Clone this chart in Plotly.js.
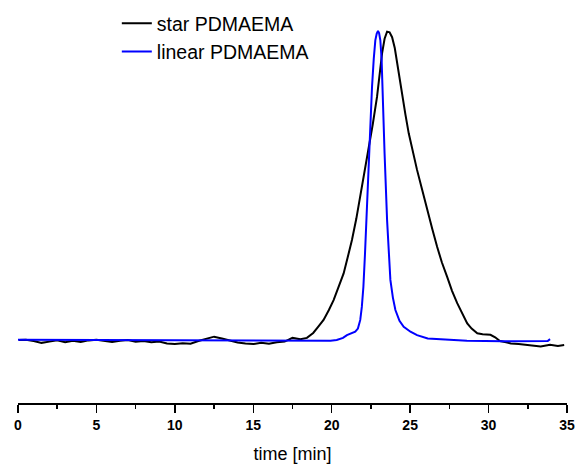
<!DOCTYPE html>
<html>
<head>
<meta charset="utf-8">
<script src="https://cdn.plot.ly/plotly-3.0.1.min.js"></script>
<style>html,body{margin:0;padding:0;background:#fff;}#chart{width:576px;height:466px;}</style>
</head>
<body>
<div id="chart"></div>
<script>
// star PDMAEMA (normalized detector signal vs elution time)
var starTime = [0.05,0.5,1,1.5,2,2.5,3,3.5,4,4.5,5,5.5,6,6.5,7,7.5,8,8.5,9,9.5,10,10.5,11,11.5,12,12.5,13,13.5,14,14.5,15,15.5,16,16.5,17,17.5,18,18.42,18.82,19.12,19.48,19.82,20.12,20.42,20.76,21.02,21.29,21.57,21.82,22.07,22.35,22.62,22.89,23.05,23.21,23.37,23.53,23.69,23.85,24.02,24.17,24.32,24.49,24.7,24.91,25.17,25.44,25.77,26.08,26.42,26.72,27.02,27.36,27.67,28.0,28.32,28.64,28.92,29.28,29.62,30.12,30.42,30.72,31.12,31.42,31.92,32.42,32.92,33.32,33.92,34.42,34.82];
var starValue = [0.003,0.004,0.0,-0.006,-0.002,0.002,-0.004,0.001,-0.003,0.002,0.004,0.0,-0.003,0.001,0.003,-0.002,0.0,-0.004,-0.002,-0.008,-0.01,-0.007,-0.009,0.0,0.006,0.014,0.008,0.002,-0.005,-0.008,-0.01,-0.006,-0.009,-0.004,-0.002,0.01,0.006,0.01,0.026,0.045,0.068,0.1,0.132,0.172,0.218,0.27,0.326,0.395,0.465,0.54,0.616,0.70,0.788,0.86,0.928,0.975,0.998,0.996,0.98,0.945,0.896,0.845,0.788,0.73,0.67,0.61,0.552,0.487,0.423,0.36,0.304,0.254,0.207,0.162,0.122,0.087,0.057,0.04,0.025,0.022,0.02,0.012,0.0,-0.004,-0.008,-0.01,-0.013,-0.016,-0.018,-0.012,-0.016,-0.013];

// linear PDMAEMA
var linTime = [0,5,10,15,19,19.92,20.32,20.72,20.97,21.22,21.5,21.67,21.82,21.92,22.02,22.12,22.21,22.35,22.47,22.57,22.68,22.78,22.87,22.95,23.02,23.1,23.18,23.25,23.37,23.53,23.64,23.74,23.9,24.06,24.32,24.59,25.02,25.44,26.12,26.72,28.62,30.92,33.52,33.77,33.92];
var linValue = [0.004,0.003,0.002,0.001,0.0,0.001,0.003,0.010,0.019,0.025,0.03,0.04,0.068,0.11,0.175,0.28,0.39,0.605,0.72,0.82,0.91,0.97,0.992,1.0,0.993,0.97,0.91,0.82,0.605,0.39,0.28,0.197,0.14,0.1,0.065,0.046,0.03,0.019,0.008,0.006,0.001,-0.001,-0.002,0.0,0.006];

var seriesNames = ['star PDMAEMA', 'linear PDMAEMA'];
var xTitle = 'time [min]';
var tickValues = [0, 5, 10, 15, 20, 25, 30, 35];
var tickLabels = ['0', '5', '10', '15', '20', '25', '30', '35'];

var traces = [
  {x: starTime, y: starValue, type: 'scatter', mode: 'lines', name: seriesNames[0],
   line: {color: '#000000', width: 2}},
  {x: linTime, y: linValue, type: 'scatter', mode: 'lines', name: seriesNames[1],
   line: {color: '#0000ff', width: 2}}
];

var layout = {
  width: 576, height: 466,
  margin: {l: 18, r: 9, t: 0, b: 63},
  paper_bgcolor: '#ffffff', plot_bgcolor: '#ffffff',
  font: {family: 'Liberation Sans, Arial, sans-serif', color: '#000'},
  showlegend: true,
  legend: {x: 0.18, y: 0.99, xanchor: 'left', yanchor: 'top',
           font: {size: 19.5, color: '#000'}, bgcolor: 'rgba(0,0,0,0)',
           tracegroupgap: 0},
  xaxis: {
    range: [0, 35], showgrid: false, zeroline: false,
    showline: true, linecolor: '#000', linewidth: 2,
    ticks: 'outside', tickcolor: '#000', ticklen: 8, tickwidth: 1.5,
    tickmode: 'array', tickvals: tickValues,
    ticktext: tickLabels.map(function (t) { return '<b>' + t + '</b>'; }),
    minor: {ticks: 'outside', ticklen: 4, tickcolor: '#000', tickwidth: 1.5, dtick: 2.5, tick0: 0},
    tickfont: {family: 'Liberation Sans, Arial, sans-serif', size: 14, weight: 'bold', color: '#000'},
    title: {text: xTitle, font: {size: 18, color: '#000'}, standoff: 16},
    automargin: false, fixedrange: true
  },
  yaxis: {range: [-0.2, 1.1], visible: false, showgrid: false, zeroline: false, fixedrange: true}
};

Plotly.newPlot('chart', traces, layout, {displayModeBar: false, staticPlot: true});
</script>
</body>
</html>
